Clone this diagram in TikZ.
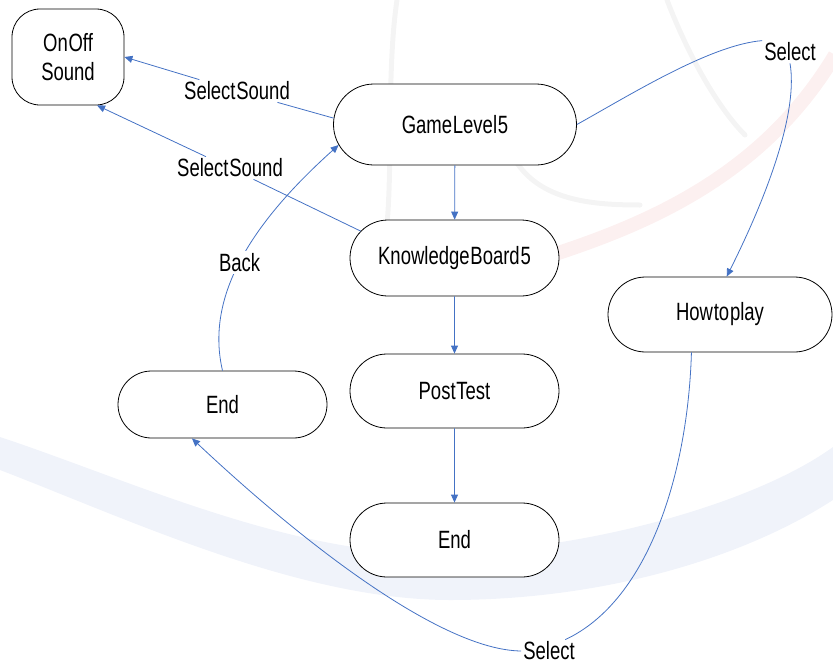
\documentclass[tikz,border=0pt]{standalone}
\usepackage{fontspec}
\setmainfont{Liberation Sans}[FakeStretch=0.74,WordSpace=0.15]
\usetikzlibrary{shapes.misc,arrows.meta}
\definecolor{linkblue}{HTML}{4472C4}
\definecolor{swooshblue}{HTML}{F0F3FA}
\definecolor{swooshred}{HTML}{FCF0F0}
\definecolor{wmgray}{HTML}{F4F4F4}
\newcommand\diagfont{\fontsize{25}{28.5}\selectfont}
\begin{document}
\begin{tikzpicture}[x=1pt,y=-1pt,
  state/.style={draw=black, fill=white, line width=0.8pt, rounded rectangle, inner sep=0pt, font=\diagfont},
  lbl/.style={inner sep=2pt, font=\diagfont},
  conn/.style={draw=linkblue, line width=0.8pt},
  arr/.style={conn, -{Triangle[length=8pt,width=7pt]}}]
\useasboundingbox (0,0) rectangle (833,664);
% faint watermark
\fill[swooshblue] (0,437) .. controls (130,480) and (300,560) .. (450,553)
  .. controls (600,548) and (760,500) .. (833,447) -- (833,500)
  .. controls (740,560) and (600,600) .. (450,600)
  .. controls (300,600) and (130,520) .. (0,470) -- cycle;
\draw[swooshred, line width=14pt] (530,262) .. controls (640,228) and (760,180) .. (835,55);
\draw[wmgray, line width=5pt, line cap=round] (397,0) .. controls (385,80) and (395,200) .. (383,250);
\draw[wmgray, line width=5pt, line cap=round] (515,160) .. controls (540,200) and (590,205) .. (640,205);
\draw[wmgray, line width=5pt, line cap=round] (667,0) .. controls (690,60) and (720,110) .. (745,135);
% states
\node[draw=black, fill=white, line width=0.8pt, rectangle, rounded corners=28pt, minimum width=112, minimum height=96, align=center, font=\diagfont] (snd) at (68,57) {On Off\\Sound};
\node[state, minimum width=243, minimum height=81] (g) at (455,124.5) {Game Level 5};
\node[state, minimum width=209, minimum height=76] (kb) at (454.5,258) {Knowledge Board 5};
\node[state, minimum width=209, minimum height=74] (pt) at (454.5,391) {Post Test};
\node[state, minimum width=209, minimum height=74] (endB) at (454.5,540) {End};
\node[state, minimum width=209, minimum height=67] (endL) at (222.5,404.5) {End};
\node[state, minimum width=224, minimum height=75] (htp) at (720,314.5) {How to play};
% labels
\node[lbl] (ss1) at (237,91) {Select Sound};
\node[lbl] (ss2) at (230,168) {Select Sound};
\node[lbl] (sel1) at (790,52) {Select};
\node[lbl] (sel2) at (549,651) {Select};
% connectors
\draw[conn] (g.177) -- (ss1);
\draw[arr] (ss1) -- (snd.east);
\draw[conn] (kb.164) -- (ss2);
\draw[arr] (ss2) -- (snd.-59);
\draw[arr] (g) -- (kb);
\draw[arr] (kb) -- (pt);
\draw[arr] (pt) -- (endB);
\draw[arr] (endL.north) .. controls (206,300) and (246,228) .. (g.190)
  node[lbl, pos=0.5, fill=white] (back) {Back};
\draw[conn] (g.east) .. controls (630,95) and (710,45) .. (sel1.north west);
\draw[arr] (sel1.south) .. controls (798,110) and (770,190) .. (htp.80);
\draw[conn] (htp.233) .. controls (688,470) and (650,600) .. (sel2.35);
\draw[arr] (sel2.west) .. controls (440,650) and (300,540) .. (endL.228);
\end{tikzpicture}
\end{document}
